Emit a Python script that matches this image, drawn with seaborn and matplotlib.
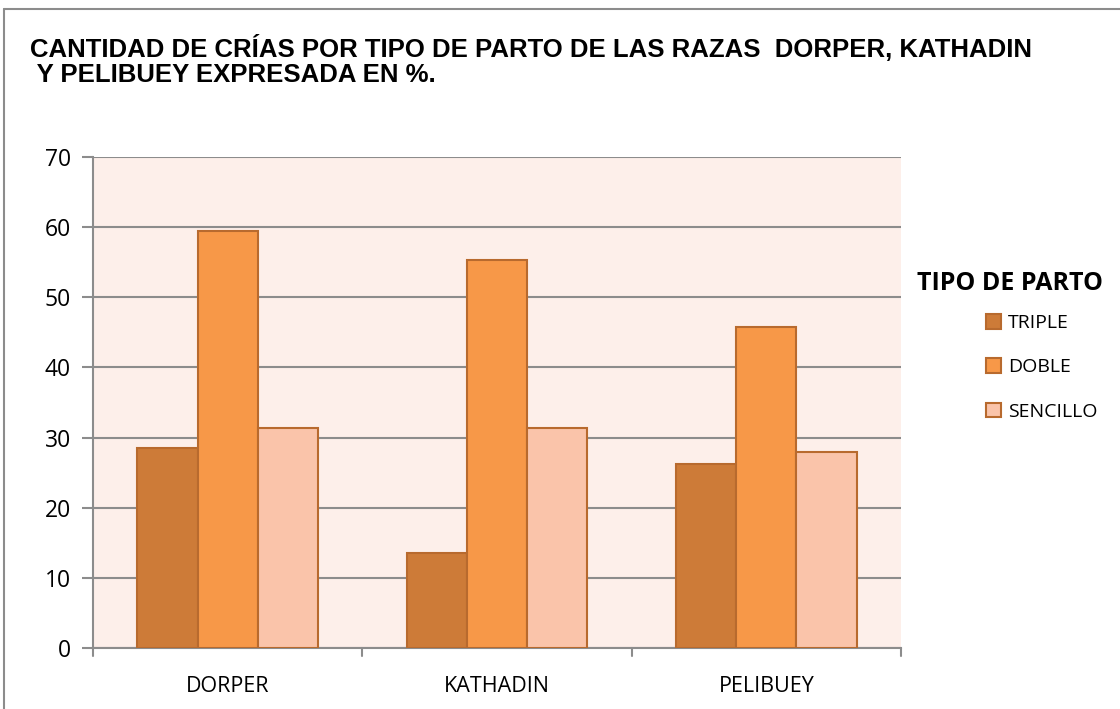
import matplotlib
matplotlib.use("Agg")
import matplotlib.pyplot as plt
import seaborn as sns
import pandas as pd
from matplotlib.lines import Line2D

razas = ["DORPER", "KATHADIN", "PELIBUEY"]
tipos = ["TRIPLE", "DOBLE", "SENCILLO"]
triple = [28.5, 13.5, 26.3]
doble = [59.4, 55.3, 45.8]
sencillo = [31.4, 31.4, 28.0]
yticks = [0, 10, 20, 30, 40, 50, 60, 70]
title = "CANTIDAD DE CRÍAS POR TIPO DE PARTO DE LAS RAZAS  DORPER, KATHADIN\n Y PELIBUEY EXPRESADA EN %."
legend_title = "TIPO DE PARTO"

rows = []
for t, vals in zip(tipos, [triple, doble, sencillo]):
    for r, v in zip(razas, vals):
        rows.append({"raza": r, "tipo": t, "valor": v})
df = pd.DataFrame(rows)

sns.set_theme(style="white")
plt.rcParams["font.family"] = ["Open Sans", "DejaVu Sans"]
plt.rcParams["text.color"] = "black"

W, H = 1120, 709
fig = plt.figure(figsize=(W / 100, H / 100), dpi=100)
ax = fig.add_axes([93 / W, (H - 648) / H, 808 / W, 491 / H])

palette = {"TRIPLE": "#CD7B38", "DOBLE": "#F79848", "SENCILLO": "#FAC4AA"}
sns.barplot(data=df, x="raza", y="valor", hue="tipo", order=razas, hue_order=tipos,
            palette=palette, width=0.67, saturation=1, edgecolor="#B86A2E",
            linewidth=1.5, ax=ax, legend=False, zorder=3)

ax.set_facecolor("#FDEFEA")
ax.set_ylim(0, 70)
ax.set_xlim(-0.5, 2.5)
ax.set_yticks(yticks)
ax.set_yticklabels([str(v) for v in yticks], fontsize=16.5)
ax.yaxis.grid(True, color="#8C8C8C", linewidth=1.5, zorder=0)
ax.set_axisbelow(True)
ax.set_xlabel("")
ax.set_ylabel("")
ax.tick_params(axis="x", length=0, pad=20, labelsize=15.5)
ax.tick_params(axis="y", length=8, width=1.5, color="#8C8C8C", direction="out", pad=8, left=True)
for xb in [-0.5, 0.5, 1.5, 2.5]:
    ax.plot([xb, xb], [0, -1.1], color="#8C8C8C", lw=1.5, clip_on=False, zorder=4)
for s in ["top", "right"]:
    ax.spines[s].set_visible(False)
for s in ["left", "bottom"]:
    ax.spines[s].set_color("#8C8C8C")
    ax.spines[s].set_linewidth(1.5)
for lbl in ax.get_xticklabels() + ax.get_yticklabels():
    lbl.set_color("black")

# title
fig.text(30 / W, 1 - 35 / H, title, ha="left", va="top", fontsize=18.5, color="black",
         fontweight="bold", family=["Liberation Sans", "DejaVu Sans"], linespacing=1.05)

# legend
fig.text(917 / W, 1 - 283 / H, legend_title, ha="left", va="center", fontsize=18,
         fontweight="bold", color="black")
handles = [plt.Rectangle((0, 0), 1, 1, facecolor=palette[t], edgecolor="#B86A2E", linewidth=1.5)
           for t in tipos]
fig.legend(handles, tipos, loc="upper left", bbox_to_anchor=(976 / W, 1 - 304 / H),
           frameon=False, fontsize=14, handlelength=0.8, handleheight=0.8,
           labelspacing=1.35, handletextpad=0.35, borderpad=0)

# figure border (left and top)
fig.add_artist(Line2D([4 / W, 4 / W], [0, 1 - 9 / H], color="#8C8C8C", lw=1.5))
fig.add_artist(Line2D([4 / W, 1], [1 - 9 / H, 1 - 9 / H], color="#8C8C8C", lw=1.5))

fig.savefig("out.png", dpi=100, facecolor="white")
